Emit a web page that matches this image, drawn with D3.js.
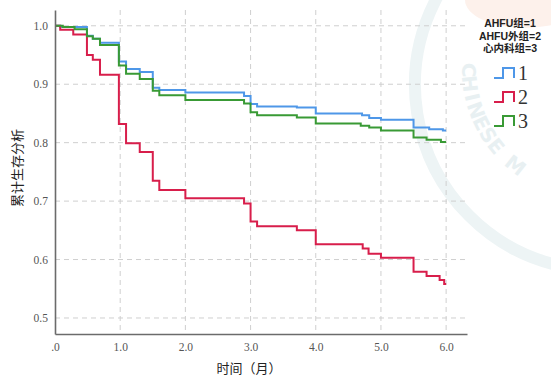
<!DOCTYPE html>
<html>
<head>
<meta charset="utf-8">
<script src="https://cdn.jsdelivr.net/npm/d3@7/dist/d3.min.js"></script>
<style>
  body { margin: 0; background: #fff; }
  svg { display: block; }
</style>
</head>
<body>
<svg id="chart" width="551" height="376"></svg>
<script>
// Kaplan-Meier steps
const groups = ["1", "2", "3"];
const times1 = [0, 0.08, 0.49, 0.58, 0.69, 0.98, 1.09, 1.3, 1.5, 1.6, 2.0, 2.9, 3.0, 3.1, 3.71, 4.0, 4.71, 4.82, 5.0, 5.5, 5.74, 5.95];
const surv1  = [1.0, 0.998, 0.983, 0.978, 0.971, 0.939, 0.926, 0.921, 0.894, 0.890, 0.886, 0.880, 0.866, 0.862, 0.860, 0.850, 0.847, 0.842, 0.839, 0.826, 0.823, 0.821];
const times2 = [0, 0.08, 0.28, 0.49, 0.58, 0.69, 0.98, 1.09, 1.3, 1.5, 1.6, 2.0, 2.9, 3.0, 3.1, 3.71, 4.0, 4.72, 4.81, 5.0, 5.5, 5.7, 5.9, 5.97];
const surv2  = [1.0, 0.993, 0.985, 0.950, 0.942, 0.916, 0.832, 0.799, 0.784, 0.735, 0.719, 0.705, 0.696, 0.665, 0.657, 0.650, 0.626, 0.619, 0.610, 0.603, 0.579, 0.572, 0.565, 0.558];
const times3 = [0, 0.12, 0.3, 0.49, 0.58, 0.69, 0.98, 1.09, 1.3, 1.5, 1.6, 2.0, 2.9, 3.0, 3.1, 3.71, 4.0, 4.69, 4.82, 5.0, 5.5, 5.7, 5.92];
const surv3  = [1.0, 0.998, 0.994, 0.982, 0.978, 0.967, 0.932, 0.918, 0.909, 0.889, 0.881, 0.873, 0.867, 0.852, 0.847, 0.843, 0.833, 0.829, 0.826, 0.821, 0.809, 0.805, 0.801];
const endTime = 6.0;
const xTicks = [0, 1, 2, 3, 4, 5, 6];
const xTickLabels = [".0", "1.0", "2.0", "3.0", "4.0", "5.0", "6.0"];
const yTicks = [0.5, 0.6, 0.7, 0.8, 0.9, 1.0];
const legendTitle = ["AHFU组=1", "AHFU外组=2", "心内科组=3"];
const colors = ["#4e97e8", "#d81e4b", "#399a35"];

const svg = d3.select("#chart");

// faint watermark behind the chart
const wm = svg.append("g");
wm.append("ellipse").attr("cx", 525).attr("cy", 0).attr("rx", 60).attr("ry", 28)
  .attr("fill", "#fdf1eb");
const band = d3.path();
band.arc(600, 85, 185, Math.PI * 1.35, Math.PI * 0.55, true);
wm.append("path").attr("d", band.toString())
  .attr("fill", "none").attr("stroke", "#edf4f5").attr("stroke-width", 12);
// letters one by one along an inner circle
const wmLetters = "CHINESE M".split("");
wmLetters.forEach((ch, i) => {
  if (ch === " ") return;
  const a = (180 - i * 6.5) * Math.PI / 180;
  const px = 590 + 128 * Math.cos(a), py = 70 + 128 * Math.sin(a);
  const rot = Math.atan2(-Math.cos(a), Math.sin(a)) * 180 / Math.PI;
  wm.append("text")
    .attr("transform", `translate(${px},${py}) rotate(${rot})`)
    .attr("text-anchor", "middle")
    .attr("font-family", "DejaVu Sans, sans-serif").attr("font-weight", "bold")
    .attr("font-size", 20).attr("fill", "#e8f0f2")
    .text(ch);
});

const x = d3.scaleLinear().domain([0, 6.32]).range([55, 467]);
const y = d3.scaleLinear().domain([0.4726, 1.027]).range([334, 10]);

// grid
svg.append("g").selectAll("line").data(yTicks).join("line")
  .attr("x1", x(0)).attr("x2", x(6.32))
  .attr("y1", d => y(d)).attr("y2", d => y(d))
  .attr("stroke", "#cfcfcf").attr("stroke-dasharray", "5,4");
svg.append("g").selectAll("line").data(xTicks.slice(1)).join("line")
  .attr("x1", d => x(d)).attr("x2", d => x(d))
  .attr("y1", y(1.027)).attr("y2", y(0.4726))
  .attr("stroke", "#cfcfcf").attr("stroke-dasharray", "5,4");

// curves
const series = [
  { t: times1, s: surv1 },
  { t: times2, s: surv2 },
  { t: times3, s: surv3 }
];
const line = d3.line().x(d => x(d[0])).y(d => y(d[1])).curve(d3.curveStepAfter);
series.forEach((g, i) => {
  const pts = g.t.map((t, j) => [t, g.s[j]]);
  pts.push([endTime, g.s[g.s.length - 1]]);
  svg.append("path").datum(pts)
    .attr("d", line)
    .attr("fill", "none")
    .attr("stroke", colors[i])
    .attr("stroke-width", 2);
});

// axes
const xAxis = svg.append("g").attr("transform", "translate(0," + y(0.4726) + ")")
  .call(d3.axisBottom(x).tickValues(xTicks).tickSize(0)
    .tickFormat((d, i) => xTickLabels[i]));
const yAxis = svg.append("g").attr("transform", "translate(" + x(0) + ",0)")
  .call(d3.axisLeft(y).tickValues(yTicks).tickSize(0).tickFormat(d3.format(".1f")));
[xAxis, yAxis].forEach(a => {
  a.select(".domain").attr("stroke", "#6b6b6b").attr("stroke-width", 1.6);
  a.selectAll("text").attr("font-family", "Liberation Serif, serif")
    .attr("font-size", 11.5).attr("fill", "#555");
});
xAxis.selectAll("text").attr("dy", "1.25em");
yAxis.selectAll("text").attr("dx", "-0.35em");

// axis titles
svg.append("text").attr("x", 249).attr("y", 373)
  .attr("text-anchor", "middle")
  .attr("font-family", "Noto Sans CJK SC, sans-serif").attr("font-size", 13)
  .attr("fill", "#222").text("时间（月）");
svg.append("text").attr("transform", "translate(22,168) rotate(-90)")
  .attr("text-anchor", "middle")
  .attr("font-family", "Noto Sans CJK SC, sans-serif").attr("font-size", 13)
  .attr("fill", "#222").text("累计生存分析");

// legend
const leg = svg.append("g");
leg.selectAll("text.title").data(legendTitle).join("text")
  .attr("class", "title")
  .attr("x", 510).attr("y", (d, i) => 27 + i * 12.5)
  .attr("text-anchor", "middle")
  .attr("font-family", "Liberation Sans, Noto Sans CJK SC, sans-serif")
  .attr("font-weight", "bold").attr("font-size", 10.5)
  .attr("fill", "#222").text(d => d);
const itemY = [73, 97, 121];
groups.forEach((g, i) => {
  const cy = itemY[i];
  leg.append("path")
    .attr("d", `M494,${cy + 5}H503V${cy - 5}H514V${cy + 5}`)
    .attr("fill", "none").attr("stroke", colors[i]).attr("stroke-width", 2);
  leg.append("text").attr("x", 518).attr("y", cy + 7)
    .attr("font-family", "Liberation Serif, serif").attr("font-size", 20)
    .attr("fill", "#333").text(g);
});
</script>
</body>
</html>
